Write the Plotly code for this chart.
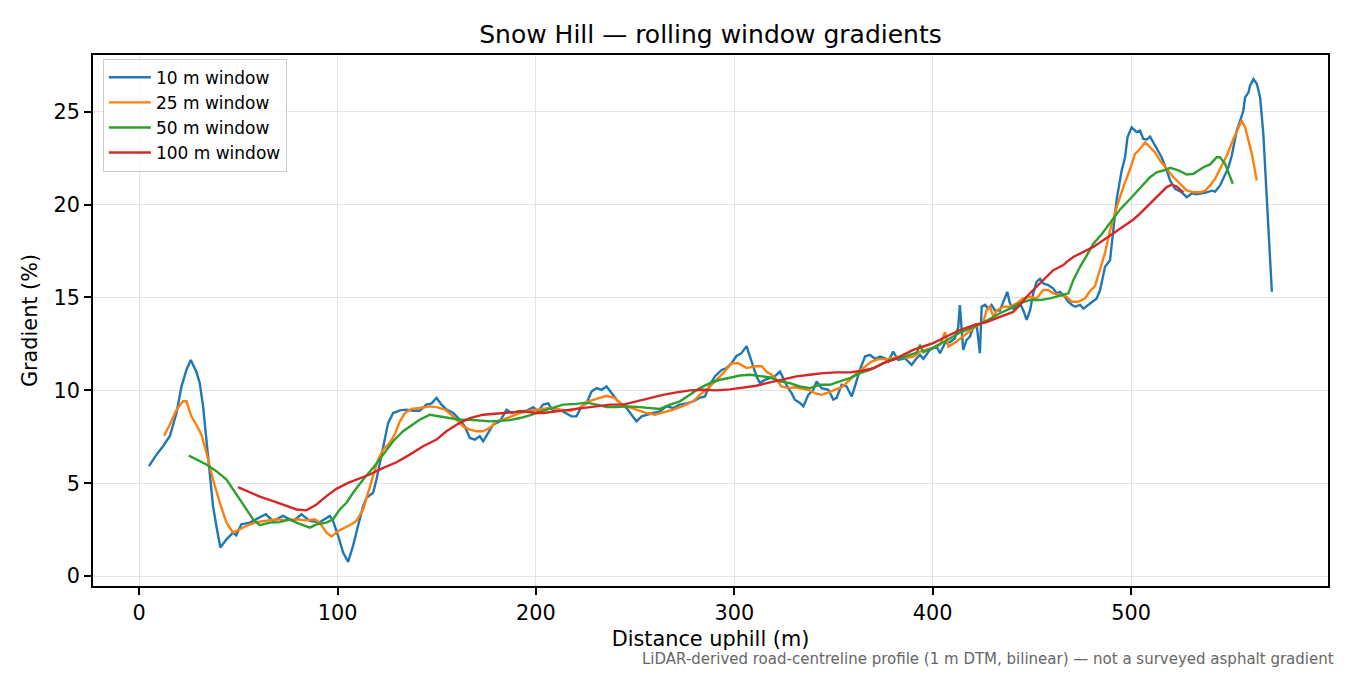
import plotly.graph_objects as go

# ---------------- data ----------------
w10_dist = [4.9, 8.7, 12.0, 15.4, 18.8, 21.3, 23.8, 26.0, 28.8, 30.5, 32.2, 33.9, 35.6, 37.2, 38.9,
            40.9, 44.0, 47.3, 48.9, 51.5, 55.7, 59.1, 63.8, 67.4, 72.5, 77.6, 81.8, 86.0, 91.0,
            96.1, 97.7, 100.3, 102.8, 105.3, 107.8, 110.3, 112.9, 114.6, 117.9, 119.6, 121.3,
            123.8, 125.5, 128.0, 131.4, 134.7, 138.1, 141.4, 144.8, 147.4, 149.9, 152.4, 154.9,
            158.3, 161.6, 164.1, 166.7, 169.2, 171.7, 173.4, 175.9, 178.4, 181.8, 185.2, 187.7,
            191.0, 195.2, 198.6, 201.1, 203.6, 206.2, 208.7, 212.1, 215.4, 217.9, 220.4, 223.0,
            225.5, 228.0, 230.6, 233.1, 235.6, 238.1, 240.7, 243.2, 245.7, 248.2, 250.7, 253.3,
            255.8, 259.1, 262.5, 265.8, 269.2, 272.5, 275.9, 279.3, 282.6, 285.2, 287.7, 290.2,
            293.6, 296.1, 298.6, 301.1, 303.6, 306.2, 307.9, 309.5, 311.2, 312.9, 315.4, 317.9,
            320.4, 323.0, 324.6, 327.1, 328.9, 330.5, 333.1, 334.8, 337.3, 339.8, 341.5, 344.0,
            347.4, 349.9, 351.6, 354.1, 356.6, 359.2, 360.8, 363.3, 365.9, 368.4, 370.9, 373.5,
            376.0, 377.6, 380.1, 382.6, 386.0, 389.4, 391.9, 393.6, 395.3, 398.6, 402.0, 403.7,
            406.2, 408.7, 411.2, 412.9, 413.7, 414.6, 415.4, 417.1, 418.8, 420.5, 422.1, 423.8,
            424.7, 426.4, 428.0, 429.7, 431.4, 433.9, 436.4, 437.6, 438.9, 440.6, 442.3, 444.0,
            445.7, 447.4, 449.1, 450.7, 452.4, 454.1, 455.8, 458.3, 460.8, 462.5, 464.2, 466.7,
            468.4, 470.1, 471.8, 474.3, 476.0, 478.5, 480.2, 482.7, 484.4, 486.9, 489.4, 491.1,
            492.8, 495.3, 497.0, 498.2, 500.3, 502.8, 504.5, 506.2, 507.9, 509.6, 511.3, 512.9,
            515.4, 518.0, 519.7, 522.2, 525.5, 528.1, 530.6, 533.1, 535.6, 538.2, 540.7, 542.4,
            544.9, 547.4, 549.1, 550.8, 553.3, 555.0, 556.6, 557.5, 559.2, 560.0, 561.7, 563.4,
            565.1, 566.7, 568.4, 571.0]
w10_grad = [5.92, 6.54, 6.99, 7.53, 8.78, 10.2, 11.1, 11.64, 11.0, 10.4, 9.14, 7.35, 5.56, 3.77, 2.7,
            1.54, 1.98, 2.34, 2.2, 2.79, 2.88, 3.06, 3.33, 2.97, 3.24, 2.97, 3.33, 2.97, 2.9,
            3.24, 2.97, 2.16, 1.27, 0.77, 1.63, 2.7, 3.77, 4.22, 4.49, 5.2, 6.1,
            7.53, 8.25, 8.78, 8.92, 8.96, 8.9, 8.9, 9.23, 9.3, 9.59, 9.23, 8.96,
            8.78, 8.42, 8.06, 7.44, 7.35, 7.53, 7.26, 7.71, 8.15, 8.33, 8.96, 8.78,
            8.87, 8.9, 9.1, 8.87, 9.23, 9.3, 8.87, 8.96, 8.78, 8.6, 8.6, 9.14,
            9.3, 9.94, 10.12, 10.03, 10.21, 9.85, 9.5, 9.23, 9.05, 8.69, 8.33, 8.6,
            8.69, 8.78, 8.87, 9.14, 9.05, 9.23, 9.3, 9.41, 9.6, 9.67, 10.3, 10.75,
            11.1, 11.2, 11.46, 11.85, 12.0, 12.38, 11.82, 11.28, 10.75, 10.39, 10.57, 10.66,
            10.75, 11.01, 10.66, 10.12, 9.85, 9.5, 9.32, 9.14, 9.76, 10.03, 10.48, 10.12,
            10.03, 9.5, 9.6, 10.3, 10.21, 9.67, 10.21, 11.1, 11.82, 11.91, 11.7, 11.82,
            11.73, 11.55, 12.09, 11.64, 11.73, 11.37, 11.73, 11.91, 11.7, 12.18, 12.36, 12.0,
            12.54, 12.6, 12.8, 13.4, 14.59, 13.4, 12.18, 12.72, 12.9, 13.4, 13.6, 12.0,
            14.5, 14.6, 14.4, 14.6, 14.3, 14.3, 15.04, 15.3, 14.7, 14.4, 14.5, 14.68,
            14.3, 13.79, 14.3, 15.22, 15.84, 16.0, 15.75, 15.66, 15.48, 15.22, 15.3, 15.04,
            14.77, 14.6, 14.5, 14.6, 14.4, 14.6, 14.77, 14.95, 15.4, 16.65, 17.0, 18.5,
            20.3, 21.84, 22.55, 23.62, 24.16, 23.9, 23.98, 23.53, 23.5, 23.66, 23.35, 23.0,
            22.55, 21.84, 21.3, 20.84, 20.66, 20.4, 20.6, 20.55, 20.6, 20.66, 20.75, 20.7,
            21.03, 21.66, 22.0, 22.64, 23.98, 24.5, 25.05, 25.77, 26.03, 26.4, 26.75, 26.5,
            25.77, 23.8, 20.58, 15.31]

w25_dist = [12.5, 15.4, 18.8, 22.1, 23.8, 26.3, 28.8, 31.4, 33.9, 37.2, 40.6, 44.0, 47.3, 50.7, 54.0,
            59.1, 64.1, 69.2, 74.2, 79.3, 84.3, 88.5, 91.0, 94.4, 96.9, 100.3, 106.1, 109.5,
            112.9, 115.4, 117.9, 120.4, 123.0, 126.3, 128.8, 131.4, 133.9, 137.2, 141.4, 146.5,
            149.9, 154.1, 158.3, 160.8, 163.3, 166.7, 170.1, 173.4, 176.8, 180.1, 183.5, 187.7,
            191.9, 196.9, 201.5, 206.9, 212.1, 217.1, 222.1, 226.3, 230.6, 235.6, 239.8, 242.3,
            245.7, 250.7, 255.8, 260.0, 264.1, 269.2, 274.2, 279.3, 282.6, 286.0, 290.2, 294.4,
            298.6, 302.0, 306.2, 310.4, 313.8, 316.3, 318.8, 321.3, 323.8, 327.2, 330.5, 333.9,
            337.3, 340.6, 344.0, 347.4, 350.7, 354.1, 357.4, 359.9, 362.5, 365.9, 369.2, 372.6,
            376.0, 380.1, 383.5, 386.9, 390.2, 393.6, 397.0, 400.3, 403.7, 406.2, 407.9, 412.1,
            417.1, 421.3, 425.5, 427.2, 428.9, 430.6, 432.3, 435.6, 439.0, 442.3, 445.7, 449.1,
            452.4, 455.8, 458.3, 460.8, 464.2, 467.6, 470.1, 473.5, 476.8, 479.3, 481.8, 484.4,
            486.9, 489.4, 492.8, 496.1, 499.5, 502.0, 504.5, 507.1, 509.6, 512.1, 514.6, 518.0,
            521.4, 524.7, 528.1, 531.5, 534.8, 537.4, 539.9, 542.4, 544.9, 548.3, 551.6, 554.1,
            555.8, 557.5, 559.2, 560.9, 563.4]
w25_grad = [7.56, 8.15, 8.96, 9.41, 9.41, 8.6, 8.15, 7.62, 6.64, 5.2, 3.95, 2.88, 2.34, 2.52, 2.7,
            2.91, 2.97, 3.06, 3.0, 3.06, 3.0, 3.06, 2.88, 2.34, 2.13, 2.43, 2.74, 2.97,
            3.59, 4.49, 5.38, 6.28, 6.81, 7.17, 7.62, 8.33, 8.78, 9.0, 9.05, 9.14,
            9.1, 8.96, 8.6, 8.33, 8.06, 7.89, 7.8, 7.8, 7.98, 8.33, 8.42, 8.6,
            8.78, 8.9, 8.98, 9.05, 8.96, 8.9, 9.05, 9.41, 9.54, 9.71, 9.58, 9.32,
            9.14, 8.96, 8.78, 8.69, 8.8, 8.96, 9.17, 9.41, 9.76, 10.03, 10.48, 10.93,
            11.45, 11.46, 11.2, 11.3, 11.3, 11.0, 10.84, 10.57, 10.21, 10.12, 10.17, 10.12,
            10.03, 9.85, 9.76, 9.89, 10.03, 10.17, 10.48, 10.75, 11.0, 11.28, 11.55, 11.68,
            11.68, 11.73, 11.82, 11.75, 11.82, 12.09, 12.18, 12.3, 12.45, 13.13, 12.36, 12.63,
            13.06, 13.4, 13.68, 14.32, 14.5, 13.95, 14.3, 14.5, 14.5, 14.68, 14.95, 15.04,
            14.95, 15.4, 15.4, 15.22, 15.13, 15.04, 14.77, 14.77, 14.95, 15.35, 15.6, 16.47,
            17.4, 18.6, 19.87, 20.94, 21.9, 22.73, 22.99, 23.35, 23.1, 22.82, 22.37, 21.92,
            21.47, 21.12, 20.76, 20.66, 20.66, 20.75, 21.03, 21.39, 21.92, 22.64, 23.53, 24.16,
            24.52, 24.16, 23.44, 22.73, 21.3]

w50_dist = [25.0, 28.8, 33.9, 38.9, 44.0, 47.3, 50.7, 54.0, 57.4, 60.8, 65.8, 70.9, 75.9, 79.3, 82.6,
            86.0, 89.4, 94.4, 97.7, 101.1, 104.5, 107.8, 112.9, 117.9, 123.0, 128.0, 133.0, 136.4,
            141.4, 146.5, 151.5, 156.6, 161.6, 166.7, 171.7, 176.8, 181.8, 186.9, 191.9, 196.9,
            201.9, 206.9, 213.7, 220.4, 225.5, 230.6, 235.6, 240.7, 245.7, 252.4, 257.5, 262.5,
            267.6, 272.6, 277.6, 282.6, 287.7, 292.7, 297.8, 302.8, 307.9, 312.9, 317.9, 323.0,
            328.0, 333.0, 338.1, 343.2, 348.2, 353.2, 358.3, 363.3, 368.4, 373.5, 378.5, 383.5,
            388.6, 392.0, 393.6, 395.2, 400.3, 405.4, 407.9, 413.7, 420.5, 427.2, 433.9, 439.0,
            444.0, 449.1, 454.1, 459.2, 464.2, 468.4, 470.9, 474.3, 477.7, 481.0, 485.2, 489.4,
            494.5, 499.5, 504.5, 509.6, 512.9, 517.1, 519.7, 523.9, 528.1, 531.5, 536.5, 539.9,
            543.2, 544.9, 547.4, 549.1, 551.3]
w50_grad = [6.49, 6.28, 6.01, 5.65, 5.2, 4.67, 4.13, 3.59, 3.06, 2.74, 2.88, 2.91, 3.06, 2.88, 2.74,
            2.61, 2.79, 2.88, 3.06, 3.59, 3.95, 4.49, 5.2, 5.83, 6.54, 7.26, 7.8, 8.06,
            8.42, 8.69, 8.6, 8.51, 8.42, 8.42, 8.38, 8.33, 8.36, 8.4, 8.51, 8.65,
            8.84, 9.0, 9.23, 9.27, 9.34, 9.23, 9.1, 9.1, 9.14, 9.1, 9.05, 9.0,
            9.23, 9.41, 9.76, 10.12, 10.39, 10.57, 10.68, 10.8, 10.84, 10.75, 10.7, 10.48,
            10.39, 10.21, 10.12, 10.3, 10.3, 10.48, 10.66, 10.93, 11.1, 11.37, 11.64, 11.73,
            11.91, 12.03, 12.45, 12.05, 12.3, 12.63, 12.75, 13.1, 13.4, 13.75, 14.15, 14.4,
            14.7, 14.86, 14.86, 14.95, 15.08, 15.22, 15.93, 16.65, 17.27, 17.9, 18.4, 19.02,
            19.74, 20.3, 20.9, 21.47, 21.74, 21.86, 21.98, 21.84, 21.62, 21.66, 22.01, 22.16,
            22.55, 22.55, 22.19, 21.74, 21.12]

w100_dist = [49.8, 54.0, 60.8, 67.5, 74.2, 79.3, 84.3, 89.4, 94.4, 99.4, 105.3, 109.5, 116.2, 123.0,
             129.7, 136.4, 143.1, 149.9, 154.9, 160.0, 166.7, 173.4, 180.1, 186.9, 193.6, 200.3,
             203.6, 210.4, 217.1, 223.8, 230.6, 237.3, 244.0, 250.7, 257.5, 264.1, 270.9, 277.6,
             284.3, 291.1, 297.8, 304.5, 311.2, 318.0, 324.7, 331.4, 338.1, 344.8, 351.6, 358.3,
             365.0, 370.1, 375.1, 380.1, 385.2, 390.2, 395.2, 400.3, 407.0, 413.7, 420.5, 427.2,
             433.9, 440.6, 444.0, 447.4, 450.7, 454.1, 457.5, 460.8, 465.9, 467.6, 470.9, 475.9,
             481.0, 486.0, 491.1, 496.1, 501.2, 504.5, 509.6, 514.6, 518.0, 520.5, 523.0, 526.4]
w100_grad = [4.79, 4.58, 4.28, 4.04, 3.77, 3.59, 3.54, 3.86, 4.31, 4.7, 5.02, 5.2, 5.47, 5.83,
             6.13, 6.54, 6.99, 7.35, 7.8, 8.15, 8.51, 8.69, 8.74, 8.8, 8.87, 8.78,
             8.78, 8.87, 8.96, 9.05, 9.14, 9.23, 9.23, 9.41, 9.58, 9.76, 9.89, 10.0,
             10.03, 10.0, 10.05, 10.15, 10.25, 10.43, 10.61, 10.75, 10.84, 10.93, 10.97, 10.97,
             11.07, 11.19, 11.46, 11.64, 11.91, 12.18, 12.36, 12.54, 12.9, 13.24, 13.5, 13.68,
             13.95, 14.22, 14.59, 15.04, 15.4, 15.75, 16.1, 16.47, 16.74, 16.92, 17.18, 17.45,
             17.72, 18.08, 18.44, 18.8, 19.2, 19.51, 20.05, 20.58, 20.94, 21.07, 20.97, 20.66]

series_names = ["10 m window", "25 m window", "50 m window", "100 m window"]
series_colors = ["#1f77b4", "#ff7f0e", "#2ca02c", "#d62728"]
x_ticks = [0, 100, 200, 300, 400, 500]
y_ticks = [0, 5, 10, 15, 20, 25]

title_text = "Snow Hill — rolling window gradients"
x_label = "Distance uphill (m)"
y_label = "Gradient (%)"
footnote = "LiDAR-derived road-centreline profile (1 m DTM, bilinear) — not a surveyed asphalt gradient"

# ---------------- figure ----------------
# The page places the figure 8 px from the top-left corner (browser body margin),
# so the figure is sized/positioned to compensate.
FONT = "DejaVu Sans"
W, H = 1342, 667
fig = go.Figure()
for name, color, xs, ys in zip(series_names, series_colors,
                               [w10_dist, w25_dist, w50_dist, w100_dist],
                               [w10_grad, w25_grad, w50_grad, w100_grad]):
    fig.add_trace(go.Scatter(x=xs, y=ys, mode="lines", name=name,
                             line=dict(color=color, width=2.4)))

axis_common = dict(
    showline=True, linecolor="black", linewidth=1.6, mirror=True,
    ticks="outside", ticklen=7, tickwidth=1.6, tickcolor="black",
    showgrid=True, gridcolor="#e4e4e4", gridwidth=1.2, zeroline=False,
    tickfont=dict(family=FONT, size=20.8, color="black"),
)

plot_h = 586 - 55
fig.update_layout(
    width=W, height=H,
    paper_bgcolor="white", plot_bgcolor="white",
    margin=dict(l=85, r=W - 1320, t=47, b=H - 578),
    font=dict(family=FONT, color="black"),
    title=dict(text=title_text, x=0.5, xref="paper", y=1 - 26 / H, yanchor="middle",
               font=dict(family=FONT, size=25, color="black")),
    xaxis=dict(range=[-23.3, 599.3], tickvals=x_ticks,
               title=dict(text=x_label, font=dict(family=FONT, size=20.8), standoff=8),
               **axis_common),
    yaxis=dict(range=[-0.53, 28.05], tickvals=y_ticks,
               title=dict(text=y_label, font=dict(family=FONT, size=20.8), standoff=10),
               **axis_common),
    legend=dict(x=0.008, y=0.993, xanchor="left", yanchor="top",
                bgcolor="rgba(255,255,255,0.8)", bordercolor="#cccccc", borderwidth=1,
                itemwidth=42,
                font=dict(family=FONT, size=17, color="black")),
    showlegend=True,
)

fig.add_annotation(text=footnote, xref="paper", yref="paper",
                   x=(1336 - 93) / 1235, y=-(659 - 586) / plot_h,
                   xanchor="right", yanchor="middle", showarrow=False,
                   font=dict(family=FONT, size=15, color="#666666"))

fig.write_html("out.html")
